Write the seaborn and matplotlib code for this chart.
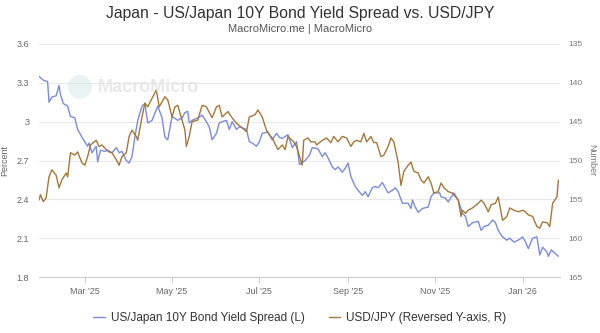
import matplotlib
matplotlib.use("Agg")
import matplotlib.pyplot as plt
import matplotlib.dates as mdates
from matplotlib.patches import Ellipse
import pandas as pd
import seaborn as sns

spread_dates = [
    "2025-01-28", "2025-01-31", "2025-02-03", "2025-02-04", "2025-02-06", "2025-02-09", "2025-02-11",
    "2025-02-12", "2025-02-14", "2025-02-17", "2025-02-19", "2025-02-22", "2025-02-24", "2025-02-27",
    "2025-03-01", "2025-03-03", "2025-03-04", "2025-03-06", "2025-03-09", "2025-03-10", "2025-03-12",
    "2025-03-15", "2025-03-17", "2025-03-20", "2025-03-23", "2025-03-25", "2025-03-27", "2025-03-30",
    "2025-04-01", "2025-04-03", "2025-04-05", "2025-04-07", "2025-04-10", "2025-04-12", "2025-04-14",
    "2025-04-17", "2025-04-21", "2025-04-24", "2025-04-26", "2025-04-28", "2025-05-01", "2025-05-05",
    "2025-05-08", "2025-05-10", "2025-05-12", "2025-05-13", "2025-05-15", "2025-05-19", "2025-05-22",
    "2025-05-25", "2025-05-27", "2025-05-29", "2025-06-01", "2025-06-03", "2025-06-05", "2025-06-08",
    "2025-06-10", "2025-06-12", "2025-06-15", "2025-06-17", "2025-06-22", "2025-06-24", "2025-06-26",
    "2025-06-29", "2025-07-01", "2025-07-03", "2025-07-07", "2025-07-10", "2025-07-13", "2025-07-15",
    "2025-07-17", "2025-07-21", "2025-07-24", "2025-07-27", "2025-07-29", "2025-08-02", "2025-08-05",
    "2025-08-07", "2025-08-11", "2025-08-14", "2025-08-16", "2025-08-18", "2025-08-21", "2025-08-23",
    "2025-08-25", "2025-08-28", "2025-08-30", "2025-09-01", "2025-09-03", "2025-09-06", "2025-09-08",
    "2025-09-11", "2025-09-13", "2025-09-15", "2025-09-18", "2025-09-20", "2025-09-22", "2025-09-25",
    "2025-09-27", "2025-09-29", "2025-10-02", "2025-10-04", "2025-10-06", "2025-10-09", "2025-10-13",
    "2025-10-15", "2025-10-16", "2025-10-18", "2025-10-20", "2025-10-23", "2025-10-27", "2025-10-29",
    "2025-10-31", "2025-11-04", "2025-11-05", "2025-11-08", "2025-11-10", "2025-11-14", "2025-11-17",
    "2025-11-20", "2025-11-22", "2025-11-24", "2025-11-27", "2025-12-01", "2025-12-03", "2025-12-05",
    "2025-12-08", "2025-12-11", "2025-12-13", "2025-12-15", "2025-12-18", "2025-12-21", "2025-12-23",
    "2025-12-26", "2025-12-29", "2026-01-01", "2026-01-03", "2026-01-05", "2026-01-08", "2026-01-11",
    "2026-01-13", "2026-01-15", "2026-01-18", "2026-01-19", "2026-01-21", "2026-01-25", "2026-01-26",
]
spread_values = [
    3.35, 3.32, 3.31, 3.15, 3.19, 3.20, 3.28, 3.21, 3.14, 3.12, 3.04, 3.03, 2.94, 2.88,
    2.845, 2.81, 2.835, 2.76, 2.81, 2.69, 2.78, 2.77, 2.78, 2.76, 2.80, 2.76, 2.77, 2.70,
    2.68, 2.73, 2.88, 3.01, 3.12, 3.14, 2.99, 3.01, 3.12, 3.03, 2.88, 2.86, 3.04, 3.01,
    3.03, 3.07, 3.08, 2.99, 3.01, 3.03, 3.05, 3.00, 2.96, 2.86, 2.91, 2.99, 3.00, 3.01,
    2.94, 3.00, 2.94, 2.96, 2.94, 2.845, 2.835, 2.81, 2.845, 2.91, 2.92, 2.86, 2.91, 2.88,
    2.87, 2.90, 2.80, 2.845, 2.67, 2.70, 2.74, 2.80, 2.79, 2.73, 2.76, 2.72, 2.65, 2.63,
    2.65, 2.61, 2.64, 2.68, 2.575, 2.50, 2.47, 2.43, 2.46, 2.42, 2.49, 2.50, 2.49, 2.53,
    2.49, 2.45, 2.47, 2.49, 2.46, 2.37, 2.37, 2.33, 2.395, 2.34, 2.30, 2.33, 2.34, 2.42,
    2.45, 2.45, 2.42, 2.41, 2.38, 2.45, 2.395, 2.29, 2.27, 2.19, 2.22, 2.23, 2.16, 2.19,
    2.20, 2.24, 2.22, 2.16, 2.11, 2.085, 2.10, 2.07, 2.085, 2.11, 2.07, 2.02, 2.10, 2.11,
    1.97, 2.03, 1.995, 1.96, 2.01, 1.97, 1.96,
]

usdjpy_dates = [
    "2025-01-28", "2025-01-29", "2025-01-31", "2025-02-02", "2025-02-04", "2025-02-06", "2025-02-09",
    "2025-02-11", "2025-02-13", "2025-02-16", "2025-02-17", "2025-02-19", "2025-02-22", "2025-02-24",
    "2025-02-27", "2025-03-01", "2025-03-03", "2025-03-05", "2025-03-09", "2025-03-11", "2025-03-13",
    "2025-03-16", "2025-03-18", "2025-03-20", "2025-03-23", "2025-03-25", "2025-03-27", "2025-03-30",
    "2025-04-01", "2025-04-03", "2025-04-06", "2025-04-07", "2025-04-10", "2025-04-12", "2025-04-14",
    "2025-04-17", "2025-04-20", "2025-04-22", "2025-04-26", "2025-04-28", "2025-05-01", "2025-05-03",
    "2025-05-05", "2025-05-08", "2025-05-10", "2025-05-11", "2025-05-13", "2025-05-15", "2025-05-19",
    "2025-05-22", "2025-05-25", "2025-05-29", "2025-06-01", "2025-06-03", "2025-06-05", "2025-06-09",
    "2025-06-12", "2025-06-15", "2025-06-19", "2025-06-22", "2025-06-24", "2025-06-28", "2025-06-30",
    "2025-07-03", "2025-07-06", "2025-07-08", "2025-07-10", "2025-07-14", "2025-07-17", "2025-07-19",
    "2025-07-21", "2025-07-25", "2025-07-27", "2025-07-31", "2025-08-01", "2025-08-04", "2025-08-06",
    "2025-08-09", "2025-08-10", "2025-08-14", "2025-08-17", "2025-08-20", "2025-08-22", "2025-08-25",
    "2025-08-28", "2025-08-31", "2025-09-03", "2025-09-05", "2025-09-07", "2025-09-10", "2025-09-12",
    "2025-09-14", "2025-09-17", "2025-09-19", "2025-09-21", "2025-09-24", "2025-09-26", "2025-09-29",
    "2025-10-01", "2025-10-03", "2025-10-06", "2025-10-08", "2025-10-10", "2025-10-13", "2025-10-15",
    "2025-10-17", "2025-10-20", "2025-10-22", "2025-10-24", "2025-10-27", "2025-10-29", "2025-10-31",
    "2025-11-03", "2025-11-05", "2025-11-07", "2025-11-10", "2025-11-13", "2025-11-17", "2025-11-19",
    "2025-11-20", "2025-11-22", "2025-11-24", "2025-11-27", "2025-12-01", "2025-12-03", "2025-12-05",
    "2025-12-08", "2025-12-10", "2025-12-13", "2025-12-15", "2025-12-18", "2025-12-21", "2025-12-23",
    "2025-12-26", "2025-12-29", "2026-01-01", "2026-01-03", "2026-01-05", "2026-01-08", "2026-01-11",
    "2026-01-13", "2026-01-15", "2026-01-18", "2026-01-20", "2026-01-22", "2026-01-25", "2026-01-26",
]
usdjpy_values = [
    155.1, 154.4, 155.3, 154.8, 152.1, 151.2, 151.9, 153.5, 152.5, 151.6, 152.1, 149.0, 149.3, 148.9,
    150.3, 150.6, 149.5, 148.0, 147.4, 148.2, 148.0, 148.6, 148.9, 149.0, 149.9, 150.6, 149.5, 149.0,
    146.9, 146.1, 146.9, 147.4, 144.4, 142.6, 143.1, 142.0, 140.9, 143.1, 141.8, 142.2, 144.4, 143.1,
    142.9, 144.8, 146.1, 148.2, 146.9, 145.0, 144.8, 142.9, 143.1, 144.5, 143.1, 142.9, 144.4, 143.7,
    144.5, 145.2, 145.8, 146.3, 144.4, 144.1, 143.5, 144.4, 146.1, 146.7, 147.1, 148.6, 148.0, 148.6,
    146.9, 147.6, 148.2, 150.6, 147.4, 147.1, 147.6, 147.6, 148.0, 147.4, 147.1, 147.7, 146.9, 147.6,
    146.9, 147.1, 148.2, 147.6, 147.4, 147.6, 146.5, 147.6, 146.9, 147.7, 147.7, 149.5, 149.3, 148.2,
    147.1, 147.6, 150.2, 153.2, 151.4, 150.6, 150.2, 151.4, 151.6, 152.5, 152.9, 152.1, 152.9, 154.2,
    154.0, 152.9, 153.5, 154.0, 154.2, 155.1, 157.2, 156.4, 156.8, 156.4, 156.1, 155.5, 155.1, 155.5,
    156.6, 155.7, 155.5, 154.7, 157.7, 157.2, 156.1, 156.4, 156.6, 156.4, 156.6, 157.0, 157.2, 158.5,
    158.7, 157.9, 158.0, 158.5, 155.5, 154.7, 152.5,
]

left_ticks = [1.8, 2.1, 2.4, 2.7, 3.0, 3.3, 3.6]
left_tick_labels = ["1.8", "2.1", "2.4", "2.7", "3", "3.3", "3.6"]
right_ticks = [135, 140, 145, 150, 155, 160, 165]

title = "Japan - US/Japan 10Y Bond Yield Spread vs. USD/JPY"
subtitle = "MacroMicro.me | MacroMicro"
spread_label = "US/Japan 10Y Bond Yield Spread (L)"
usdjpy_label = "USD/JPY (Reversed Y-axis, R)"

BLUE = "#7b8bd9"
BROWN = "#a2773b"

sns.set_style("white")
plt.rcParams["font.family"] = ["Liberation Sans", "DejaVu Sans"]

df_s = pd.DataFrame({"date": pd.to_datetime(spread_dates), "value": spread_values})
df_j = pd.DataFrame({"date": pd.to_datetime(usdjpy_dates), "value": usdjpy_values})

fig = plt.figure(figsize=(6.0, 3.33), dpi=100)
ax = fig.add_axes([0.065, 0.168, 0.868, 0.700])
ax2 = ax.twinx()

sns.lineplot(data=df_s, x="date", y="value", ax=ax, color=BLUE, linewidth=1.0, label=spread_label, legend=False)
sns.lineplot(data=df_j, x="date", y="value", ax=ax2, color=BROWN, linewidth=1.0, label=usdjpy_label, legend=False)

ax.set_ylim(1.8, 3.6)
ax.set_yticks(left_ticks)
ax.set_yticklabels(left_tick_labels)
ax2.set_ylim(165, 135)
ax2.set_yticks(right_ticks)

ax.set_xlim(pd.Timestamp("2025-01-28"), pd.Timestamp("2026-01-27"))
ax.xaxis.set_major_locator(mdates.MonthLocator(bymonth=[1, 3, 5, 7, 9, 11]))
ax.xaxis.set_major_formatter(mdates.DateFormatter("%b '%y"))

ax.grid(axis="y", color="#e8e8e8", linewidth=0.8)
ax.grid(axis="x", visible=False)
ax2.grid(False)
for a in (ax, ax2):
    for s in a.spines.values():
        s.set_visible(False)
ax.spines["bottom"].set_visible(True)
ax.spines["bottom"].set_color("#cccccc")
ax.spines["bottom"].set_linewidth(0.8)

ax.tick_params(axis="x", which="major", length=4, color="#cccccc", labelsize=6.5, labelcolor="#666666", pad=3, bottom=True)
ax.tick_params(axis="y", length=0, labelsize=6.5, labelcolor="#666666", pad=7)
ax2.tick_params(axis="y", length=0, labelsize=6.0, labelcolor="#777777", pad=6.5)

ax.set_xlabel("")
ax.set_ylabel("Percent", fontsize=6.5, color="#666666")
ax.yaxis.set_label_coords(-0.058, 0.5)
ax2.set_ylabel("Number", fontsize=6.5, color="#777777", rotation=270, va="center")
ax2.yaxis.set_label_coords(1.062, 0.5)

fig.text(0.5, 0.958, title, ha="center", va="center", fontsize=11.3, color="#333333")
fig.text(0.5, 0.913, subtitle, ha="center", va="center", fontsize=8, color="#555555")

# watermark
fig.patches.append(Ellipse((0.133, 0.739), 0.040, 0.072, transform=fig.transFigure,
                           facecolor="#cfe7e3", alpha=0.45, edgecolor="none"))
fig.text(0.163, 0.738, "MacroMicro", ha="left", va="center", fontsize=13, fontweight="bold", color="#e3e3e3", alpha=0.8)

h1, l1 = ax.get_legend_handles_labels()
h2, l2 = ax2.get_legend_handles_labels()
fig.legend(h1 + h2, l1 + l2, loc="center", bbox_to_anchor=(0.5, 0.045), ncol=2, frameon=False,
           fontsize=8.5, handlelength=1.0, handletextpad=0.5, columnspacing=2.0, labelcolor="#333333")

fig.savefig("out.png", dpi=100)
